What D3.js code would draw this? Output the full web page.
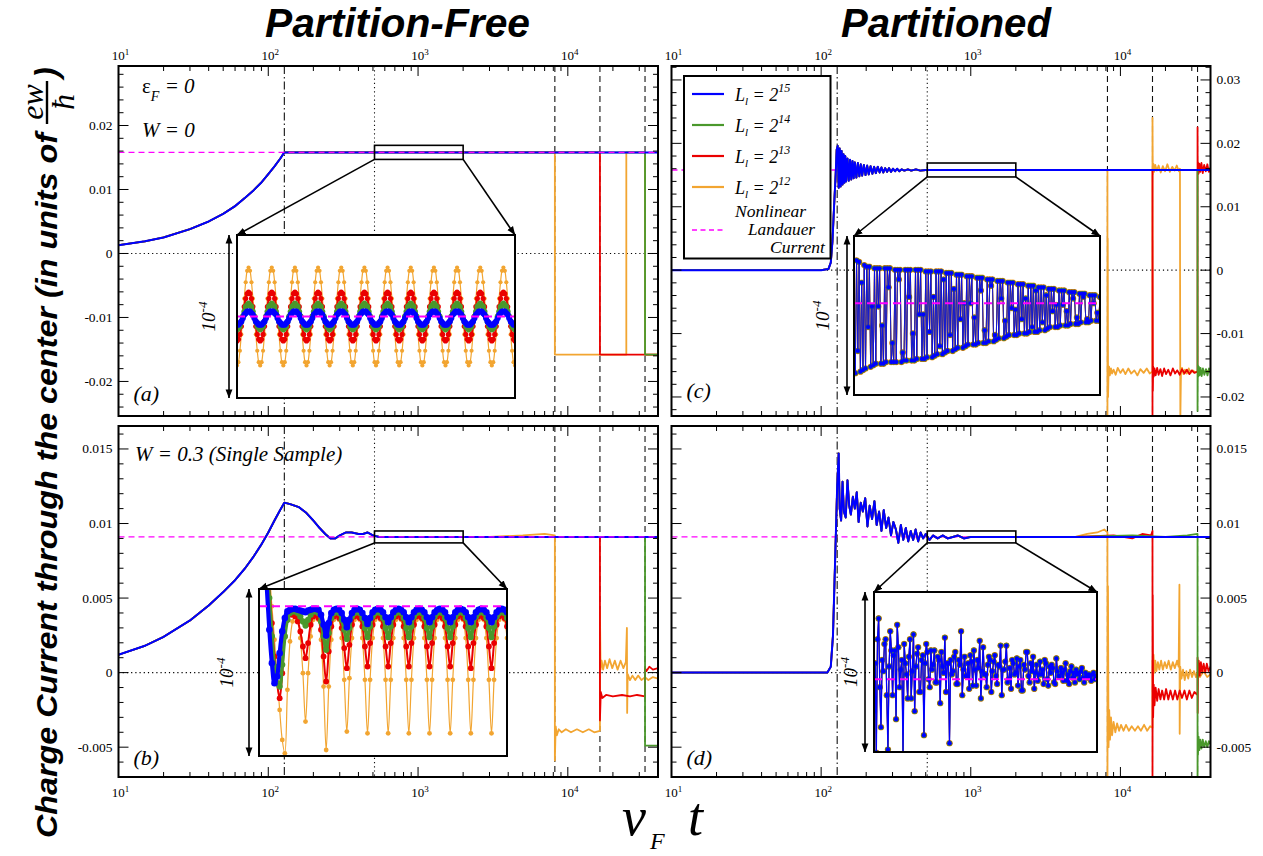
<!DOCTYPE html>
<html><head><meta charset="utf-8">
<script src="https://cdn.jsdelivr.net/npm/d3@7"></script>
<style>body{margin:0;background:#fff}svg{display:block}</style>
</head><body><svg id="c" width="1263" height="856"></svg>
<script>
// ---------------- DATA ----------------
const xTickLabels = ["1","2","3","4"];          // exponents of 10
const yTicksTop = [-0.02,-0.01,0,0.01,0.02];
const yTicksTopRight = [-0.02,-0.01,0,0.01,0.02,0.03];
const yTicksBottom = [-0.005,0,0.005,0.01,0.015];
const seriesNames = ["2^15","2^14","2^13","2^12"];
const landauerTop = 0.0158;
const landauerBottom = 0.0091;
const refTimes = [128, 512, 8192, 16384, 32768];

// (a) Partition-free, W=0
const riseA = [[10,0.0013],[15,0.0019],[20,0.0025],[30,0.0038],[40,0.0050],[50,0.0062],[60,0.0074],[70,0.0087],[80,0.0099],[90,0.0111],[100,0.0124],[110,0.0136],[120,0.0148],[128,0.0158]];
const blueA_tail = [[40000,0.0158]];
const greenA_tail = [[32768,0.0158],[32768,-0.0158],[40000,-0.0158]];
const redA_tail = [[16384,0.0158],[16384,-0.0158],[40000,-0.0158]];
const orangeA_tail = [[8192,0.0158],[8192,-0.0158],[24576,-0.0158],[24576,0.0158],[32768,0.0158],[32768,-0.0158],[40000,-0.0158]];

// (b) Partition-free, W=0.3
const riseB = [[10,0.0012],[15,0.0018],[20,0.0024],[30,0.0035],[40,0.0045],[50,0.0054],[60,0.0062],[70,0.0070],[80,0.0078],[90,0.0086],[100,0.0094],[110,0.0102],[120,0.0109],[128,0.0114],[140,0.0113],[160,0.0111],[180,0.0107],[200,0.0102],[220,0.0097],[240,0.0093],[260,0.0090],[280,0.0090],[300,0.0092],[330,0.0094],[360,0.0094],[400,0.0093],[430,0.0093],[460,0.0094],[500,0.0092],[550,0.0091],[600,0.0091]];
const blueB_tail = [[40000,0.0091]];
const greenB_tail = [[32768,0.0091],[32768,-0.0049],[40000,-0.0049]];
const redB_tail = [[16384,0.0091],[16384,-0.0032],[16600,-0.0013],[17000,-0.0017],[18000,-0.0015],[20000,-0.0016],[23000,-0.0015],[26000,-0.0016],[29000,-0.0015],[32768,-0.0016],[32768,0.0003],[33500,0.0001],[35000,0.0004],[37000,0.0002],[40000,0.0003]];
const orangeB_tail = [[3000,0.0091],[5000,0.0092],[7000,0.0093],[8192,0.0092],[8192,-0.0059],[8300,-0.0036],[8450,-0.0042],[8700,-0.0038],[9100,-0.0040],[9700,-0.0038],[10500,-0.0040],[11500,-0.0038],[12600,-0.0040],[13800,-0.0038],[15000,-0.0040],[16384,-0.0039],[16384,0.0042],[16550,0.0002],[16800,0.0008],[17200,0.0002],[17700,0.0008],[18300,0.0003],[19000,0.0009],[19800,0.0003],[20600,0.0008],[21500,0.0002],[22500,0.0008],[23500,0.0003],[24400,0.0007],[24800,0.0030],[24900,-0.0027],[25100,-0.0001],[26000,-0.0005],[27000,-0.0002],[28200,-0.0005],[29500,-0.0002],[31000,-0.0005],[32768,-0.0003],[34500,-0.0005],[37000,-0.0003],[40000,-0.0004]];

// (c) Partitioned, W=0
const commonC = [[10,0],[100,0],[112,0.0002],[116,0.0012],[119,0.0045],[122,0.0100],[125,0.0150],[127,0.0190],[129,0.0196],[131,0.0130],[133,0.0192],[135,0.0132],[137,0.0188],[139,0.0135],[141,0.0183],[143,0.0138],[145,0.0180],[147,0.0140],[150,0.0176],[153,0.0141],[156,0.0174],[159,0.0143],[162,0.0172],[165,0.0145],[168,0.0170],[172,0.0146],[176,0.0169],[180,0.0148],[184,0.0167],[188,0.0149],[193,0.0166],[198,0.0150],[203,0.0165],[208,0.0151],[214,0.0164],[220,0.0152],[226,0.0163],[232,0.0153],[239,0.0163],[246,0.0154],[253,0.0162],[260,0.0154],[268,0.0161],[276,0.0155],[284,0.0161],[293,0.0155],[302,0.0160],[312,0.0156],[322,0.0160],[333,0.0156],[345,0.0159],[360,0.0157],[380,0.0159],[400,0.0157],[430,0.0159],[460,0.0157],[500,0.0158],[5000,0.0158]];
const blueC_tail = [[40000,0.0158]];
const orangeC_tail = [[8192,0.0158],[8192,-0.0235],[8230,0.0050],[8270,-0.0200],[8320,-0.0168],[8400,-0.0152],[8500,-0.0166],[8650,-0.0155],[8800,-0.0163],[9000,-0.0157],[9300,-0.0165],[9600,-0.0154],[10000,-0.0162],[10400,-0.0156],[10800,-0.0164],[11300,-0.0155],[11800,-0.0163],[12400,-0.0158],[13000,-0.0166],[13600,-0.0156],[14300,-0.0162],[15000,-0.0155],[15700,-0.0163],[16384,-0.0160],[16384,0.0240],[16450,0.0150],[16600,0.0168],[16800,0.0155],[17100,0.0166],[17500,0.0157],[18000,0.0165],[18600,0.0154],[19200,0.0164],[19900,0.0156],[20600,0.0167],[21400,0.0155],[22200,0.0163],[23000,0.0157],[23800,0.0165],[24600,0.0156],[25000,0.0160],[25050,-0.0030],[25150,-0.0235],[25400,-0.0160],[25800,-0.0154],[26400,-0.0164],[27000,-0.0157],[27800,-0.0163],[28600,-0.0155],[29500,-0.0162],[30500,-0.0158],[31500,-0.0161],[32768,-0.0160],[34000,-0.0158],[36000,-0.0161],[38000,-0.0159],[40000,-0.0160]];
const redC_tail = [[16384,0.0158],[16384,-0.0235],[16400,0.0047],[16480,-0.0190],[16560,-0.0152],[16700,-0.0168],[16900,-0.0155],[17200,-0.0166],[17600,-0.0154],[18000,-0.0165],[18500,-0.0156],[19000,-0.0167],[19600,-0.0155],[20200,-0.0164],[20900,-0.0157],[21600,-0.0166],[22400,-0.0155],[23200,-0.0163],[24000,-0.0158],[24900,-0.0165],[25800,-0.0156],[26800,-0.0163],[27800,-0.0157],[28900,-0.0164],[30000,-0.0158],[31200,-0.0162],[32768,-0.0160],[32768,0.0225],[32850,0.0150],[33000,0.0170],[33300,0.0152],[33700,0.0168],[34200,0.0155],[34800,0.0169],[35500,0.0153],[36300,0.0166],[37200,0.0156],[38100,0.0167],[39000,0.0155],[40000,0.0162]];
const greenC_tail = [[32768,0.0158],[32768,-0.0222],[32850,-0.0175],[32950,-0.0150],[33100,-0.0168],[33400,-0.0152],[33800,-0.0166],[34300,-0.0154],[34900,-0.0167],[35600,-0.0155],[36400,-0.0165],[37300,-0.0156],[38200,-0.0166],[39100,-0.0155],[40000,-0.0162]];

// (d) Partitioned, W=0.3
const commonD = [[10,0],[110,0],[116,0.0004],[120,0.0025],[124,0.0075],[128,0.0125],[131,0.0147],[133,0.0110],[136,0.0102],[139,0.0128],[142,0.0108],[146,0.0104],[150,0.0129],[154,0.0112],[158,0.0106],[163,0.0118],[168,0.0110],[173,0.0121],[178,0.0101],[184,0.0114],[190,0.0108],[197,0.0117],[204,0.0098],[211,0.0112],[219,0.0103],[227,0.0115],[235,0.0099],[244,0.0108],[253,0.0095],[262,0.0109],[272,0.0097],[282,0.0104],[293,0.0092],[304,0.0101],[316,0.0096],[328,0.0087],[341,0.0099],[354,0.0089],[368,0.0097],[382,0.0088],[397,0.0095],[412,0.0089],[428,0.0096],[445,0.0088],[462,0.0094],[480,0.0090],[500,0.0093],[530,0.0089],[560,0.0092],[600,0.0090],[650,0.0092],[700,0.0090],[760,0.0091],[820,0.0092],[900,0.0090],[1000,0.0091],[1200,0.0091],[5000,0.0091]];
const blueD_tail = [[40000,0.0091]];
const orangeD_tail = [[6000,0.0093],[7000,0.0094],[7800,0.0096],[8192,0.0094],[8192,-0.0075],[8260,0.0058],[8330,-0.0050],[8420,-0.0025],[8520,-0.0045],[8650,-0.0030],[8800,-0.0042],[9000,-0.0033],[9250,-0.0040],[9500,-0.0034],[9800,-0.0039],[10100,-0.0035],[10500,-0.0039],[10900,-0.0035],[11400,-0.0039],[11900,-0.0036],[12500,-0.0039],[13100,-0.0036],[13700,-0.0039],[14400,-0.0035],[15100,-0.0039],[15800,-0.0036],[16384,-0.0037],[16384,0.0008],[16500,-0.0010],[16650,0.0012],[16850,0.0000],[17100,0.0008],[17400,0.0001],[17800,0.0007],[18200,0.0002],[18700,0.0008],[19200,0.0002],[19800,0.0007],[20400,0.0003],[21000,0.0008],[21700,0.0002],[22400,0.0007],[23100,0.0003],[23900,0.0008],[24500,0.0004],[24800,0.0059],[24900,-0.0041],[25100,0.0004],[25600,-0.0004],[26200,0.0002],[26900,-0.0005],[27600,0.0001],[28400,-0.0004],[29200,0.0002],[30100,-0.0003],[31000,0.0001],[32000,-0.0003],[32768,0.0000],[34000,-0.0003],[36000,0.0001],[38000,-0.0003],[40000,-0.0001]];
const redD_tail = [[9000,0.0092],[12000,0.0090],[14000,0.0093],[16000,0.0092],[16384,0.0095],[16384,-0.0075],[16450,0.0052],[16550,-0.0030],[16700,-0.0008],[16900,-0.0022],[17200,-0.0010],[17600,-0.0019],[18000,-0.0011],[18500,-0.0018],[19000,-0.0012],[19600,-0.0018],[20200,-0.0011],[20900,-0.0018],[21600,-0.0012],[22400,-0.0018],[23200,-0.0012],[24000,-0.0018],[24900,-0.0012],[25800,-0.0017],[26800,-0.0012],[27800,-0.0018],[28900,-0.0012],[30000,-0.0017],[31200,-0.0013],[32768,-0.0015],[32768,0.0010],[32850,-0.0027],[33000,-0.0003],[33400,0.0008],[33900,-0.0002],[34500,0.0007],[35200,0.0000],[36000,0.0006],[36900,0.0000],[37800,0.0006],[38800,0.0001],[40000,0.0004]];
const greenD_tail = [[12000,0.0092],[20000,0.0091],[28000,0.0092],[32768,0.0093],[32768,-0.0075],[32850,-0.0040],[33000,-0.0055],[33300,-0.0043],[33700,-0.0052],[34200,-0.0045],[34800,-0.0051],[35500,-0.0045],[36300,-0.0050],[37200,-0.0046],[38100,-0.0050],[39000,-0.0046],[40000,-0.0048]];

// Insets: deviation from the Landauer current in units of 1e-6
// (b): sampled every 16 from t = 512 to 2048 ; (a),(c),(d): every 8
const insetT16 = d3.range(512, 2049, 16);
const insetT8 = d3.range(512, 2049, 8);
const insetA_orange = [
-30,-28,-21,-11,0,11,21,28,30,28,21,11,0,-11,-21,-28,
-30,-28,-21,-11,0,11,21,28,30,28,21,11,0,-11,-21,-28,
-30,-28,-21,-11,0,11,21,28,30,28,21,11,0,-11,-21,-28,
-30,-28,-21,-11,0,11,21,28,30,28,21,11,0,-11,-21,-28,
-30,-28,-21,-11,0,11,21,28,30,28,21,11,0,-11,-21,-28,
-30,-28,-21,-11,0,11,21,28,30,28,21,11,0,-11,-21,-28,
-30,-28,-21,-11,0,11,21,28,30,28,21,11,0,-11,-21,-28,
-30,-28,-21,-11,0,11,21,28,30,28,21,11,0,-11,-21,-28,
-30,-28,-21,-11,0,11,21,28,30,28,21,11,0,-11,-21,-28,
-30,-28,-21,-11,0,11,21,28,30,28,21,11,0,-11,-21,-28,
-30,-28,-21,-11,0,11,21,28,30,28,21,11,0,-11,-21,-28,
-30,-28,-21,-11,0,11,21,28,30,28,21,11,0,-11,-21,-28,
-30];
const insetA_red = [
-15,-14,-11,-6,0,6,11,14,15,14,11,6,0,-6,-11,-14,
-15,-14,-11,-6,0,6,11,14,15,14,11,6,0,-6,-11,-14,
-15,-14,-11,-6,0,6,11,14,15,14,11,6,0,-6,-11,-14,
-15,-14,-11,-6,0,6,11,14,15,14,11,6,0,-6,-11,-14,
-15,-14,-11,-6,0,6,11,14,15,14,11,6,0,-6,-11,-14,
-15,-14,-11,-6,0,6,11,14,15,14,11,6,0,-6,-11,-14,
-15,-14,-11,-6,0,6,11,14,15,14,11,6,0,-6,-11,-14,
-15,-14,-11,-6,0,6,11,14,15,14,11,6,0,-6,-11,-14,
-15,-14,-11,-6,0,6,11,14,15,14,11,6,0,-6,-11,-14,
-15,-14,-11,-6,0,6,11,14,15,14,11,6,0,-6,-11,-14,
-15,-14,-11,-6,0,6,11,14,15,14,11,6,0,-6,-11,-14,
-15,-14,-11,-6,0,6,11,14,15,14,11,6,0,-6,-11,-14,
-15];
const insetA_green = [
-8,-7,-6,-3,0,3,6,7,8,7,6,3,0,-3,-6,-7,
-8,-7,-6,-3,0,3,6,7,8,7,6,3,0,-3,-6,-7,
-8,-7,-6,-3,0,3,6,7,8,7,6,3,0,-3,-6,-7,
-8,-7,-6,-3,0,3,6,7,8,7,6,3,0,-3,-6,-7,
-8,-7,-6,-3,0,3,6,7,8,7,6,3,0,-3,-6,-7,
-8,-7,-6,-3,0,3,6,7,8,7,6,3,0,-3,-6,-7,
-8,-7,-6,-3,0,3,6,7,8,7,6,3,0,-3,-6,-7,
-8,-7,-6,-3,0,3,6,7,8,7,6,3,0,-3,-6,-7,
-8,-7,-6,-3,0,3,6,7,8,7,6,3,0,-3,-6,-7,
-8,-7,-6,-3,0,3,6,7,8,7,6,3,0,-3,-6,-7,
-8,-7,-6,-3,0,3,6,7,8,7,6,3,0,-3,-6,-7,
-8,-7,-6,-3,0,3,6,7,8,7,6,3,0,-3,-6,-7,
-8];
const insetA_blue = [
-5,-5,-4,-3,-1,1,2,3,3,3,2,1,-1,-3,-4,-5,
-5,-5,-4,-3,-1,1,2,3,3,3,2,1,-1,-3,-4,-5,
-5,-5,-4,-3,-1,1,2,3,3,3,2,1,-1,-3,-4,-5,
-5,-5,-4,-3,-1,1,2,3,3,3,2,1,-1,-3,-4,-5,
-5,-5,-4,-3,-1,1,2,3,3,3,2,1,-1,-3,-4,-5,
-5,-5,-4,-3,-1,1,2,3,3,3,2,1,-1,-3,-4,-5,
-5,-5,-4,-3,-1,1,2,3,3,3,2,1,-1,-3,-4,-5,
-5,-5,-4,-3,-1,1,2,3,3,3,2,1,-1,-3,-4,-5,
-5,-5,-4,-3,-1,1,2,3,3,3,2,1,-1,-3,-4,-5,
-5,-5,-4,-3,-1,1,2,3,3,3,2,1,-1,-3,-4,-5,
-5,-5,-4,-3,-1,1,2,3,3,3,2,1,-1,-3,-4,-5,
-5,-5,-4,-3,-1,1,2,3,3,3,2,1,-1,-3,-4,-5,
-5];

const insetB_orange = [100,80,60,40,20,0,-20,-42,-62,-80, -88,-50,-21,-9,-5,-8,-19,-40, -69,-40,-18,-8,-5,-8,-20,-48, -86,-48,-20,-8,-5,-8,-19,-44, -75,-43,-19,-8,-5,-8,-19,-44, -76,-44,-19,-8,-5,-8,-19,-44, -76,-44,-19,-8,-5,-8,-19,-44, -76,-44,-19,-8,-5,-8,-19,-44, -76,-44,-19,-8,-5,-8,-19,-44, -76,-44,-19,-8,-5,-8,-19,-44, -76,-44,-19,-8,-5,-8,-19,-44, -76,-44,-19,-8,-5,-8,-19];
const insetB_red = [100,78,56,34,12,-10,-30,-46,-55,-40, -18,-8,-5,-5,-6,-9,-15,-24, -31,-22,-11,-6,-5,-7,-14,-30, -45,-27,-12,-6,-5,-7,-13,-25, -37,-23,-11,-6,-5,-7,-12,-24, -36,-22,-11,-6,-5,-7,-12,-24, -36,-22,-11,-6,-5,-7,-12,-24, -36,-22,-11,-6,-5,-7,-12,-24, -36,-22,-11,-6,-5,-7,-12,-24, -36,-22,-11,-6,-5,-7,-12,-24, -37,-22,-11,-6,-5,-7,-12,-24, -37,-22,-11,-6,-5,-7,-12];
const insetB_green = [100,76,52,28,5,-18,-36,-46,-48,-35, -18,-8,-4,-3,-3,-4,-6,-9, -11.5,-8,-5,-3,-3,-4,-9,-18, -26,-16,-7,-4,-3,-4,-8,-14, -19.5,-13,-6,-4,-3,-4,-7,-13, -18.5,-12,-6,-4,-3,-4,-7,-13, -18.5,-12,-6,-4,-3,-4,-7,-13, -18.5,-12,-6,-4,-3,-4,-7,-13, -18.5,-12,-6,-4,-3,-4,-7,-13, -18.5,-12,-6,-4,-3,-4,-7,-13, -18.5,-12,-6,-4,-3,-4,-7,-13, -18.5,-12,-6,-4,-3,-4,-7];
const insetB_blue = [95,65,38,12,-14,-34,-46,-42,-28,-15, -7,-3,-2,-1.5,-1.5,-2,-2.5,-3, -3.5,-2.5,-2,-1.5,-1.5,-2,-5,-11, -17.5,-10,-4,-2,-1.5,-2,-4,-8, -12.5,-8,-4,-2,-1.5,-2,-4,-7, -10.5,-7,-3.5,-2,-1.5,-2,-3.5,-6.5, -9.5,-6.5,-3.5,-2,-1.5,-2,-3.5,-6.5, -9.5,-6.5,-3.5,-2,-1.5,-2,-3.5,-6.5, -9.5,-6.5,-3.5,-2,-1.5,-2,-3.5,-6.5, -9.5,-6.5,-3.5,-2,-1.5,-2,-3.5,-6.5, -9.5,-6.5,-3.5,-2,-1.5,-2,-3.5,-6.5, -9.5,-6.5,-3.5,-2,-1.5,-2,-3.5];

const insetC_all = [27,-44,27,-30,26,-43,13,-42, 24,-41,23,-15,23,-40,-2,-39, 22,-38,22,-2,22,-38,-14,-38, 22,-37,22,10,22,-37,-25,-37, 21,-37,21,15,21,-37,-31,-36, 21,-36,21,4,21,-36,-19,-36, 21,-35,21,-7,21,-35,-7,-35, 20,-34,20,-18,20,-34,4,-33, 20,-32,20,-27,20,-32,15,-31, 19,-30,19,-20,19,-30,9,-29, 18,-28,18,-10,18,-28,0,-27, 17,-26,17,0,17,-26,-9,-26, 16,-25,16,8,16,-25,-17,-25, 15,-24,15,11,15,-24,-20,-23, 14,-22,14,3,14,-22,-11,-21, 13,-20,13,-3,13,-20,-4,-20, 12,-19,12,-10,12,-19,3,-19, 11,-18,11,-15,11,-18,8,-18, 10,-17,10,-12,10,-17,5,-16, 9,-15,9,-5,9,-15,-1,-15, 8,-14,8,-1,8,-14,-5,-14, 7,-13,7,3,7,-13,-9,-13, 6,-12,6,4,6,-12,-10,-12, 5,-11,5,0,5,-11,-6,-11, 4];

const insetD_all = [-20,10,-46,25,38,-5,-30,12, 5,22,25,-10,-44,8,30,18, -10,15,18,-25,34,20,-5,6, 12,-48,22,10,3,-12,14,25, -12,5,28,-20,8,16,20,-8, -8,12,15,-35,10,22,17,0, -5,18,6,9,18,-2,-2,14, 12,-15,17,8,4,26,-8,10, 10,-40,12,3,5,14,17,-3, -3,12,9,30,-10,6,14,2, 2,10,-6,15,11,-4,18,6, -4,12,7,24,-12,5,20,3, 3,-5,9,14,12,-8,5,11, 15,2,-3,9,8,21,-10,6, 6,11,21,-2,0,7,-6,12, 10,3,4,13,-4,8,12,-7, -7,9,6,17,17,2,-2,10, 5,14,-6,4,9,-1,3,11, 3,6,-3,12,10,0,-4,8, 4,9,7,-2,-3,13,5,2, 2,7,4,-1,6,10,-1,3, -3,5,8,1,4,-2,6,3, 4,0,5,7,1,-2,4,2, 1,3,2,-1,3,4,0,2, 1];

// ---------------- STYLE / LAYOUT ----------------
const COL = {blue:"#0000ff", green:"#4a982c", red:"#ea0000", orange:"#f2a531", mag:"#ff00ff"};
const SERIF = '"Liberation Serif","DejaVu Serif",serif';
const SANS = '"Liberation Sans",Arial,sans-serif';

const svg = d3.select("#c");
const defs = svg.append("defs");
defs.append("marker").attr("id","ah").attr("viewBox","0 0 10 10").attr("refX",9.5).attr("refY",5)
  .attr("markerWidth",9).attr("markerHeight",9).attr("markerUnits","userSpaceOnUse")
  .attr("orient","auto-start-reverse").append("path").attr("d","M0,1.2L10,5L0,8.8Z").attr("fill","#000");

const fmtY = d => d===0 ? "0" : String(+d.toFixed(3));

const panels = [
 {id:"a", x0:118.5, x1:658, y0:66, y1:416, yDom:[-0.0254,0.0293], yTicks:yTicksTop, yMinor:0.002, yLab:"left", xLab:"top", L:landauerTop,
  series:[[riseA,orangeA_tail,COL.orange],[riseA,redA_tail,COL.red],[riseA,greenA_tail,COL.green],[riseA,blueA_tail,COL.blue]],
  box:0.0011,
  inset:{x0:237,y0:235,x1:515,y1:398,dom:[-50,50],ax:229,lx:215,t:insetT8,smooth:true,
    s:[[insetA_orange,COL.orange,1.2,2.1],[insetA_red,COL.red,2,2.6],[insetA_green,COL.green,3.5,2.9],[insetA_blue,COL.blue,4,3]]},
  tag:"(a)", tagY:401},
 {id:"b", x0:118.5, x1:658, y0:426, y1:777, yDom:[-0.0070,0.01654], yTicks:yTicksBottom, yMinor:0.001, yLab:"left", xLab:"bottom", L:landauerBottom,
  series:[[riseB,orangeB_tail,COL.orange],[riseB,redB_tail,COL.red],[riseB,greenB_tail,COL.green],[riseB,blueB_tail,COL.blue]],
  box:0.0004,
  inset:{x0:259,y0:589,x1:507,y1:756,dom:[-89.6,10.4],ax:249,lx:233,t:insetT16,smooth:true,
    s:[[insetB_orange,COL.orange,1.2,2.4],[insetB_red,COL.red,2,2.9],[insetB_green,COL.green,3.5,3.1],[insetB_blue,COL.blue,4.2,3.3]]},
  tag:"(b)", tagY:765},
 {id:"c", x0:671.5, x1:1210.5, y0:66, y1:416, yDom:[-0.0230,0.0322], yTicks:yTicksTopRight, yMinor:0.002, yLab:"right", xLab:"top", L:landauerTop,
  series:[[commonC,orangeC_tail,COL.orange],[commonC,redC_tail,COL.red],[commonC,greenC_tail,COL.green],[commonC,blueC_tail,COL.blue]],
  box:0.0011,
  inset:{x0:854,y0:236,x1:1100,y1:395,dom:[-57.7,42.3],ax:847,lx:829,t:insetT8,smooth:false,
    s:[[insetC_all,COL.orange,1,3.2],[insetC_all,COL.red,0.8,2.7],[insetC_all,COL.green,0.8,2.7],[insetC_all,COL.blue,0.8,2.1]]},
  tag:"(c)", tagY:398},
 {id:"d", x0:671.5, x1:1210.5, y0:426, y1:777, yDom:[-0.0070,0.01654], yTicks:yTicksBottom, yMinor:0.001, yLab:"right", xLab:"bottom", L:landauerBottom,
  series:[[commonD,orangeD_tail,COL.orange],[commonD,redD_tail,COL.red],[commonD,greenD_tail,COL.green],[commonD,blueD_tail,COL.blue]],
  box:0.0004,
  inset:{x0:874,y0:592,x1:1097,y1:752,dom:[-45.5,54.5],ax:865,lx:857,t:insetT8,smooth:false,
    s:[[insetD_all,COL.orange,1,3.2],[insetD_all,COL.red,0.8,2.8],[insetD_all,COL.green,0.8,2.8],[insetD_all,COL.blue,1.3,2.2]]},
  tag:"(d)", tagY:765},
];

const refDash = {128:"8,3,1.5,3", 512:"1.2,3", 8192:"6,4", 16384:"6,4", 32768:"6,4"};

panels.forEach(p => {
  const x = d3.scaleLog().domain([10,40000]).range([p.x0,p.x1]);
  const y = d3.scaleLinear().domain(p.yDom).range([p.y1,p.y0]);
  const g = svg.append("g");
  defs.append("clipPath").attr("id","cl"+p.id).append("rect")
    .attr("x",p.x0).attr("y",p.y0).attr("width",p.x1-p.x0).attr("height",p.y1-p.y0);
  const pg = g.append("g").attr("clip-path",`url(#cl${p.id})`);

  // reference lines
  pg.append("line").attr("x1",p.x0).attr("x2",p.x1).attr("y1",y(0)).attr("y2",y(0))
    .attr("stroke","#000").attr("stroke-width",1.1).attr("stroke-dasharray","1.2,3");
  refTimes.forEach(t => pg.append("line").attr("x1",x(t)).attr("x2",x(t)).attr("y1",p.y0).attr("y2",p.y1)
    .attr("stroke","#111").attr("stroke-width",1.1).attr("stroke-dasharray",refDash[t]));
  const magLine = () => pg.append("line").attr("x1",p.x0).attr("x2",p.x1).attr("y1",y(p.L)).attr("y2",y(p.L))
    .attr("stroke",COL.mag).attr("stroke-width",1.3).attr("stroke-dasharray","6,4");
  if (p.id==="c"||p.id==="d") magLine();

  const line = d3.line().x(d=>x(d[0])).y(d=>y(d[1]));
  p.series.forEach(([head,tail,c]) => {
    const data = head.filter(d => d[0] < tail[0][0]).concat(tail);
    pg.append("path").attr("d",line(data)).attr("fill","none").attr("stroke",c)
      .attr("stroke-width", c===COL.blue?2:1.8).attr("stroke-linejoin","round");
  });
  if (p.id==="a"||p.id==="b") magLine();

  // zoom box
  const bx0 = x(512), bx1 = x(2000), by0 = y(p.L+p.box), by1 = y(p.L-p.box);
  g.append("rect").attr("x",bx0).attr("y",by0).attr("width",bx1-bx0).attr("height",by1-by0)
    .attr("fill","none").attr("stroke","#000").attr("stroke-width",1.6);

  // inset
  const I = p.inset;
  const ig = g.append("g");
  ig.append("rect").attr("x",I.x0).attr("y",I.y0).attr("width",I.x1-I.x0).attr("height",I.y1-I.y0).attr("fill","#fff");
  defs.append("clipPath").attr("id","ci"+p.id).append("rect")
    .attr("x",I.x0).attr("y",I.y0).attr("width",I.x1-I.x0).attr("height",I.y1-I.y0);
  const xi = d3.scaleLinear().domain([512,2048]).range([I.x0,I.x1]);
  const yi = d3.scaleLinear().domain(I.dom).range([I.y1,I.y0]);
  const ic = ig.append("g").attr("clip-path",`url(#ci${p.id})`);
  const iline = d3.line().x(d=>xi(d[0])).y(d=>yi(d[1])).curve(I.smooth ? d3.curveCatmullRom : d3.curveLinear);
  I.s.forEach(([vals,c,lw,r]) => {
    const pts = I.t.map((t,i)=>[t,vals[i]]).filter(d=>d[1]!==undefined);
    ic.append("path").attr("d",iline(pts)).attr("fill","none").attr("stroke",c).attr("stroke-width",lw);
    ic.append("g").selectAll("circle").data(pts).join("circle")
      .attr("cx",d=>xi(d[0])).attr("cy",d=>yi(d[1])).attr("r",r).attr("fill",c);
  });
  ic.append("line").attr("x1",I.x0).attr("x2",I.x1).attr("y1",yi(0)).attr("y2",yi(0))
    .attr("stroke",COL.mag).attr("stroke-width",2).attr("stroke-dasharray","8,5");
  ig.append("rect").attr("x",I.x0).attr("y",I.y0).attr("width",I.x1-I.x0).attr("height",I.y1-I.y0)
    .attr("fill","none").attr("stroke","#000").attr("stroke-width",2);

  // connecting arrows
  [[bx0,I.x0],[bx1,I.x1]].forEach(([a,b]) => g.append("line").attr("x1",a).attr("y1",by1).attr("x2",b).attr("y2",I.y0)
    .attr("stroke","#000").attr("stroke-width",1.6).attr("marker-end","url(#ah)"));
  // double arrow (10^-4 scale)
  g.append("line").attr("x1",I.ax).attr("x2",I.ax).attr("y1",I.y0).attr("y2",I.y1)
    .attr("stroke","#000").attr("stroke-width",1.6).attr("marker-start","url(#ah)").attr("marker-end","url(#ah)");
  const lt = g.append("text").attr("transform",`translate(${I.lx},${(I.y0+I.y1)/2}) rotate(-90)`)
    .attr("text-anchor","middle").style("font",`italic 19px ${SERIF}`);
  lt.append("tspan").text("10");
  lt.append("tspan").attr("dy",-8).style("font-size","13px").text("-4");

  // frame
  g.append("rect").attr("x",p.x0).attr("y",p.y0).attr("width",p.x1-p.x0).attr("height",p.y1-p.y0)
    .attr("fill","none").attr("stroke","#000").attr("stroke-width",2);

  // x ticks
  const majX = [10,100,1000,10000];
  const minX = [];
  [10,100,1000,10000].forEach(b => { for (let k=2;k<=9;k++) if (b*k<40000) minX.push(b*k); });
  const tk = g.append("g").attr("stroke","#000").attr("stroke-width",1);
  majX.concat(minX).forEach(t => {
    const len = majX.includes(t) ? 10 : 5;
    tk.append("line").attr("x1",x(t)).attr("x2",x(t)).attr("y1",p.y1).attr("y2",p.y1-len);
    tk.append("line").attr("x1",x(t)).attr("x2",x(t)).attr("y1",p.y0).attr("y2",p.y0+len);
  });
  // y ticks
  const ymin = [];
  for (let v = Math.ceil(p.yDom[0]/p.yMinor)*p.yMinor; v <= p.yDom[1]; v += p.yMinor) ymin.push(+v.toFixed(5));
  ymin.forEach(v => {
    const maj = p.yTicks.some(t => Math.abs(t-v) < 1e-7);
    const len = maj ? 10 : 5;
    tk.append("line").attr("x1",p.x0).attr("x2",p.x0+len).attr("y1",y(v)).attr("y2",y(v));
    tk.append("line").attr("x1",p.x1).attr("x2",p.x1-len).attr("y1",y(v)).attr("y2",y(v));
  });

  // labels
  const lab = g.append("g").style("font",`13px ${SERIF}`).attr("fill","#000");
  p.yTicks.forEach(v => {
    lab.append("text").attr("x", p.yLab==="left" ? p.x0-6 : p.x1+6).attr("y", y(v)+4.5)
      .attr("text-anchor", p.yLab==="left" ? "end" : "start").style("font-size","13.5px").text(fmtY(v));
  });
  majX.forEach((t,i) => {
    const tx = lab.append("text").attr("x",x(t)+2).attr("y", p.xLab==="top" ? p.y0-6 : p.y1+20)
      .attr("text-anchor","middle");
    tx.append("tspan").text("10");
    tx.append("tspan").attr("dy",-5).style("font-size","9px").text(xTickLabels[i]);
  });

  g.append("text").attr("x", p.x0+15).attr("y", p.tagY).style("font",`italic 22px ${SERIF}`).text(p.tag);
});

// annotations panel (a)/(b)
const an = svg.append("g").style("font",`italic 21px ${SERIF}`);
const e1 = an.append("text").attr("x",142).attr("y",93);
e1.append("tspan").style("font-style","normal").text("ε");
e1.append("tspan").attr("dy",8).style("font-size","14px").text("F");
e1.append("tspan").attr("dy",-8).text(" = 0");
an.append("text").attr("x",142).attr("y",137).text("W = 0");
an.append("text").attr("x",135).attr("y",461).text("W = 0.3 (Single Sample)");

// legend in (c)
const lg = svg.append("g");
lg.append("rect").attr("x",684).attr("y",76).attr("width",146.5).attr("height",182.5)
  .attr("fill","#fff").attr("stroke","#000").attr("stroke-width",2);
const legCols = [COL.blue,COL.green,COL.red,COL.orange];
const legExp = ["15","14","13","12"];
legCols.forEach((c,i) => {
  const yy = 94 + i*31;
  lg.append("line").attr("x1",692).attr("x2",724).attr("y1",yy).attr("y2",yy).attr("stroke",c).attr("stroke-width",2.2);
  const t = lg.append("text").attr("x",735).attr("y",yy+7).style("font",`italic 18px ${SERIF}`);
  t.append("tspan").text("L");
  t.append("tspan").attr("dy",4).style("font-size","11px").text("l");
  t.append("tspan").attr("dy",-4).text(" = 2");
  t.append("tspan").attr("dy",-9).style("font-size","12px").text(legExp[i]);
});
lg.append("line").attr("x1",692).attr("x2",724).attr("y1",230).attr("y2",230).attr("stroke",COL.mag).attr("stroke-width",1.4).attr("stroke-dasharray","5,3.5");
[["Nonlinear",735,217,71],["Landauer",748,235,67],["Current",770,253,55]].forEach(([s,xx,yy,w]) =>
  lg.append("text").attr("x",xx).attr("y",yy).attr("textLength",w).attr("lengthAdjust","spacingAndGlyphs")
    .style("font",`italic 16px ${SERIF}`).text(s));

// titles
svg.append("text").attr("x",265).attr("y",37).attr("textLength",265).attr("lengthAdjust","spacingAndGlyphs")
  .style("font",`italic bold 41px ${SANS}`).text("Partition-Free");
svg.append("text").attr("x",841).attr("y",37).attr("textLength",210).attr("lengthAdjust","spacingAndGlyphs")
  .style("font",`italic bold 41px ${SANS}`).text("Partitioned");

// y title
const yt = svg.append("g").attr("transform","translate(57,838) rotate(-90)");
yt.append("text").attr("x",0).attr("y",0).attr("textLength",705).attr("lengthAdjust","spacingAndGlyphs")
  .style("font",`italic bold 30px ${SANS}`).text("Charge Current through the center (in units of");
yt.append("text").attr("x",736).attr("y",-14).attr("text-anchor","middle").style("font",`italic 32px ${SERIF}`).text("ew");
yt.append("line").attr("x1",714).attr("x2",757).attr("y1",-10).attr("y2",-10).attr("stroke","#000").attr("stroke-width",2.4);
yt.append("text").attr("x",736).attr("y",17).attr("text-anchor","middle").style("font",`italic 32px ${SERIF}`).text("ħ");
yt.append("text").attr("x",760).attr("y",0).style("font",`italic bold 32px ${SANS}`).text(")");

// x title (v_F t)
const xtf = `italic 54px ${SERIF}`;
svg.append("text").attr("x",622).attr("y",835).style("font",xtf).text("v");
svg.append("text").attr("x",650).attr("y",849).style("font",`italic 24px ${SERIF}`).text("F");
svg.append("text").attr("x",688).attr("y",835).style("font",xtf).text("t");
</script></body></html>
